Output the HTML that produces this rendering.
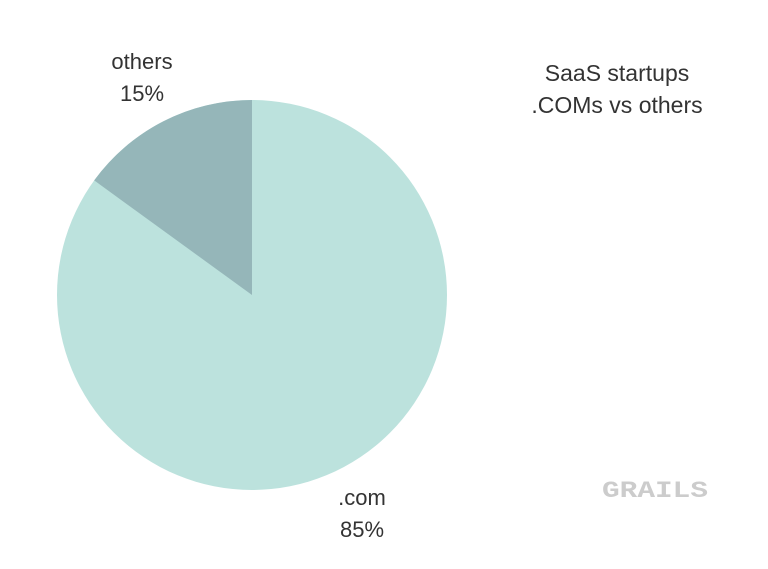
<!DOCTYPE html>
<html><head><style>
body{margin:0;background:#fff;}
</style></head><body>
<svg width="768" height="569" xmlns="http://www.w3.org/2000/svg" style="display:block">
<rect width="768" height="569" fill="#fff"/>
<circle cx="252" cy="295" r="195" fill="#bce2dd"/>
<path d="M252,295 L252,100 A195,195 0 0,0 94.2,180.4 Z" fill="#95b6b9"/>
<g font-family="Liberation Sans, sans-serif" font-size="22" fill="#333" text-anchor="middle">
<text x="142" y="69">others</text>
<text x="142" y="101">15%</text>
<text x="362" y="505">.com</text>
<text x="362" y="537">85%</text>
<text x="617" y="81" font-size="23">SaaS startups</text>
<text x="617" y="113" font-size="23">.COMs vs others</text>
</g>
<text x="655" y="497" font-family="Liberation Mono, monospace" font-weight="bold" font-size="23" fill="#ccc" text-anchor="middle" textLength="106" lengthAdjust="spacingAndGlyphs">GRAILS</text>
</svg>
</body></html>
